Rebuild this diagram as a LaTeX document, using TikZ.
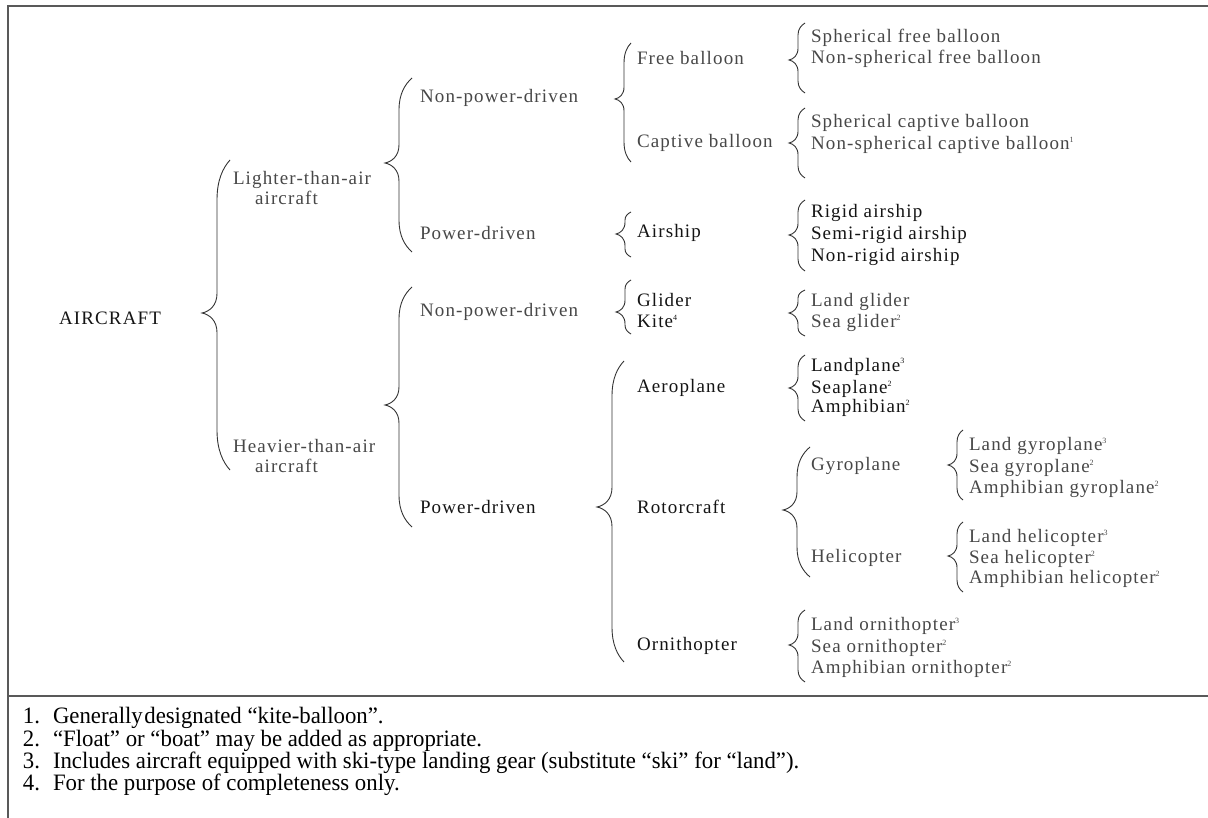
\documentclass[tikz,border=0pt]{standalone}
\usepackage{fontspec}
\setmainfont{Liberation Serif}
\newfontfamily\dfont[LetterSpace=6]{Liberation Serif}
\newfontfamily\nfont[FakeStretch=0.97]{Liberation Serif}
\newcommand\fnm[1]{\raisebox{7pt}{\fontsize{8}{8}\selectfont #1}}
\definecolor{tdark}{gray}{0.08}
\definecolor{tlight}{gray}{0.28}
\definecolor{frame}{gray}{0.35}
\tikzset{
  brc/.style={draw=black!80, line width=0.9pt},
  lbl/.style={anchor=base west, inner sep=0pt, outer sep=0pt, font=\dfont\fontsize{19}{22}\selectfont, text=tdark},
  lbll/.style={lbl, text=tlight},
  fn/.style={anchor=base west, inner sep=0pt, outer sep=0pt, font=\nfont\fontsize{23.5}{26}\selectfont, text=black},
  framel/.style={draw=frame, line width=1.4pt}
}
% x, top, tip, bottom, flare width, flare height, tip depth
\newcommand\brc[7]{%
 \draw[brc] ({#1+#5},#2) .. controls ({#1+0.45*#5},{#2+0.2*#6}) and (#1,{#2+0.5*#6}) .. (#1,{#2+#6})
 -- (#1,{#3-1.3*#7}) .. controls (#1,{#3-0.5*#7}) and ({#1-0.5*#7},{#3-0.1*#7}) .. ({#1-#7},#3)
 .. controls ({#1-0.5*#7},{#3+0.1*#7}) and (#1,{#3+0.5*#7}) .. (#1,{#3+1.3*#7})
 -- (#1,{#4-#6}) .. controls (#1,{#4-0.5*#6}) and ({#1+0.45*#5},{#4-0.2*#6}) .. ({#1+#5},#4);}
\begin{document}
\begin{tikzpicture}[x=1pt,y=-1pt]
\useasboundingbox (0,0) rectangle (1208,818);
% frame
\coordinate (fTL) at (8,6);
\coordinate (fTR) at (1208,6);
\coordinate (fBL) at (8,818);
\coordinate (sL) at (8,696);
\coordinate (sR) at (1208,696);
\draw[framel] (fTR) -- (fTL) -- (fBL);
\draw[framel] (sL) -- (sR);

% braces
\brc{217}{160}{313}{470}{13}{40}{15}
\brc{399}{78}{163}{252}{13}{32}{14}
\brc{399}{287}{405}{527}{13}{32}{14}
\brc{624}{43}{99}{162}{7}{20}{9}
\brc{625}{212}{234}{257}{6}{8}{9}
\brc{625}{280}{312}{334}{6}{9}{9}
\brc{612}{361}{507}{662}{12}{35}{15}
\brc{798}{23}{60}{93}{7}{12}{9}
\brc{798}{108}{143}{178}{7}{12}{9}
\brc{798}{200}{235}{271}{7}{12}{9}
\brc{798}{290}{313}{336}{7}{8}{9}
\brc{798}{355}{388}{421}{7}{12}{9}
\brc{797}{447}{510}{577}{13}{30}{14}
\brc{798}{610}{645}{682}{7}{12}{9}
\brc{957}{430}{465}{500}{6}{12}{9}
\brc{957}{522}{556}{592}{6}{12}{9}

% level 1
\node[lbl] (aircraft) at (59,325) {AIRCRAFT};
% level 2
\node[lbll] (lta1) at (233,185) {Lighter-than-air};
\node[lbll] (lta2) at (255,205) {aircraft};
\node[lbll] (hta1) at (233,452) {Heavier-than-air};
\node[lbll] (hta2) at (255,472) {aircraft};
% level 3
\node[lbll] (npd1) at (420,103) {Non-power-driven};
\node[lbll] (pd1) at (420,240) {Power-driven};
\node[lbll] (npd2) at (420,317) {Non-power-driven};
\node[lbl] (pd2) at (420,513) {Power-driven};
% level 4
\node[lbll] (free) at (637,65) {Free balloon};
\node[lbll] (captive) at (637,148) {Captive balloon};
\node[lbl] (airship) at (637,238) {Airship};
\node[lbl] (glider) at (637,307) {Glider};
\node[lbl] (kite) at (637,328) {Kite\fnm{4}};
\node[lbl] (aeroplane) at (637,392) {Aeroplane};
\node[lbl] (rotor) at (637,513) {Rotorcraft};
\node[lbl] (ornith) at (637,650) {Ornithopter};
% level 5
\node[lbll] (sfb) at (811,43) {Spherical free balloon};
\node[lbll] (nsfb) at (811,64) {Non-spherical free balloon};
\node[lbll] (scb) at (811,128) {Spherical captive balloon};
\node[lbll] (nscb) at (811,150) {Non-spherical captive balloon\fnm{1}};
\node[lbl] (ra) at (811,218) {Rigid airship};
\node[lbl] (sra) at (811,240) {Semi-rigid airship};
\node[lbl] (nra) at (811,262) {Non-rigid airship};
\node[lbll] (lg) at (811,307) {Land glider};
\node[lbll] (sg) at (811,328) {Sea glider\fnm{2}};
\node[lbl] (lp) at (811,371) {Landplane\fnm{3}};
\node[lbl] (sp) at (811,393) {Seaplane\fnm{2}};
\node[lbl] (amp) at (811,413) {Amphibian\fnm{2}};
\node[lbll] (gyro) at (811,470) {Gyroplane};
\node[lbll] (heli) at (811,562) {Helicopter};
\node[lbll] (lo) at (811,630) {Land ornithopter\fnm{3}};
\node[lbll] (so) at (811,652) {Sea ornithopter\fnm{2}};
\node[lbll] (ao) at (811,673) {Amphibian ornithopter\fnm{2}};
% level 6
\node[lbll] (lgy) at (969,450) {Land gyroplane\fnm{3}};
\node[lbll] (sgy) at (969,472) {Sea gyroplane\fnm{2}};
\node[lbll] (agy) at (969,493) {Amphibian gyroplane\fnm{2}};
\node[lbll] (lh) at (969,542) {Land helicopter\fnm{3}};
\node[lbll] (sh) at (969,563) {Sea helicopter\fnm{2}};
\node[lbll] (ah) at (969,583) {Amphibian helicopter\fnm{2}};

% footnotes
\node[fn] (n1) at (23,723) {1.};
\node[fn] (t1) at (53,723) {Generally\hspace{1.5pt}designated “kite-balloon”.};
\node[fn] (n2) at (23,746) {2.};
\node[fn] (t2) at (53,746) {“Float” or “boat” may be added as appropriate.};
\node[fn] (n3) at (23,768) {3.};
\node[fn] (t3) at (53,768) {Includes aircraft equipped with ski-type landing gear (substitute “ski” for “land”).};
\node[fn] (n4) at (23,790) {4.};
\node[fn] (t4) at (53,790) {For the purpose of completeness only.};
\end{tikzpicture}
\end{document}
